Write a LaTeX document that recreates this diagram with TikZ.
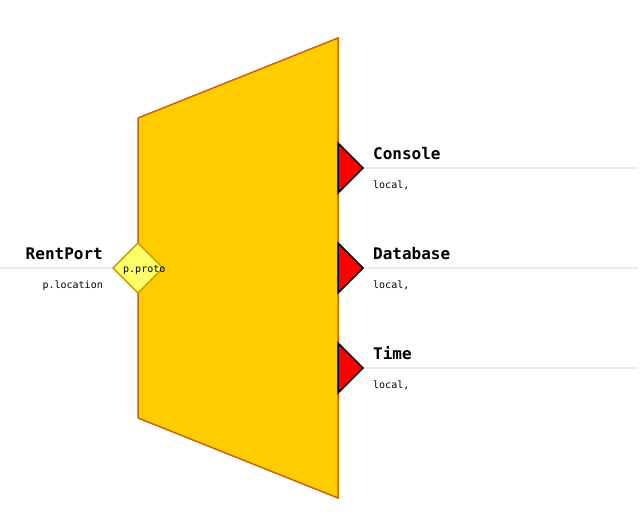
\documentclass[tikz,border=0pt]{standalone}
\usepackage{fontspec}
\setmonofont{DejaVu Sans Mono}
\usetikzlibrary{calc}
\usetikzlibrary{positioning}
\definecolor{boxfill}{HTML}{FFCC00}
\definecolor{boxline}{HTML}{CC6600}
\definecolor{portfill}{HTML}{FFFF66}
\definecolor{portline}{HTML}{CCA300}
\definecolor{wire}{HTML}{EBEBEB}

\begin{document}
\begin{tikzpicture}[x=1pt,y=-1pt,
  title/.style={font=\ttfamily\bfseries\fontsize{16}{18}\selectfont, inner sep=0},
  sub/.style={font=\ttfamily\fontsize{10}{12}\selectfont, inner sep=0},
  wireline/.style={wire, line width=1.5pt}]
\useasboundingbox (0,0) rectangle (643,530);
% wires
\coordinate (inW) at (0,268);
\coordinate (inP) at (138,268);
\draw[wireline] (inW)--(inP);
\foreach \y/\nm in {168/con,268/db,368/tim} {
 \coordinate (\nm tip) at (363,\y);
 \coordinate (\nm end) at (638,\y);
 \draw[wireline] (\nm tip)--(\nm end);
}
% component body
\draw[boxline, fill=boxfill, line width=1.5pt] (138,118)--(338,38)--(338,498)--(138,418)--cycle;
% required port
\draw[portline, fill=portfill, line width=1.5pt] (113,268)--(138,243)--(163,268)--(138,293)--cycle;
\node[sub, anchor=west] (proto) at (123,270) {p.proto};
\node[title, anchor=base east] (rent) at (103,259) {RentPort};
\node[sub, anchor=base east] (loc) at (103,288) {p.location};
% provided ports
\foreach \y/\nm/\txt in {168/con/Console,268/db/Database,368/tim/Time} {
 \draw[black, fill=red, line width=1.5pt] (338,\y-25)--(\nm tip)--(338,\y+25)--cycle;
 \node[title, anchor=base west] (\nm) at (373,\y-9) {\txt};
 \node[sub, anchor=base west] (\nm sub) at (373,\y+20) {local,};
}
\end{tikzpicture}
\end{document}
